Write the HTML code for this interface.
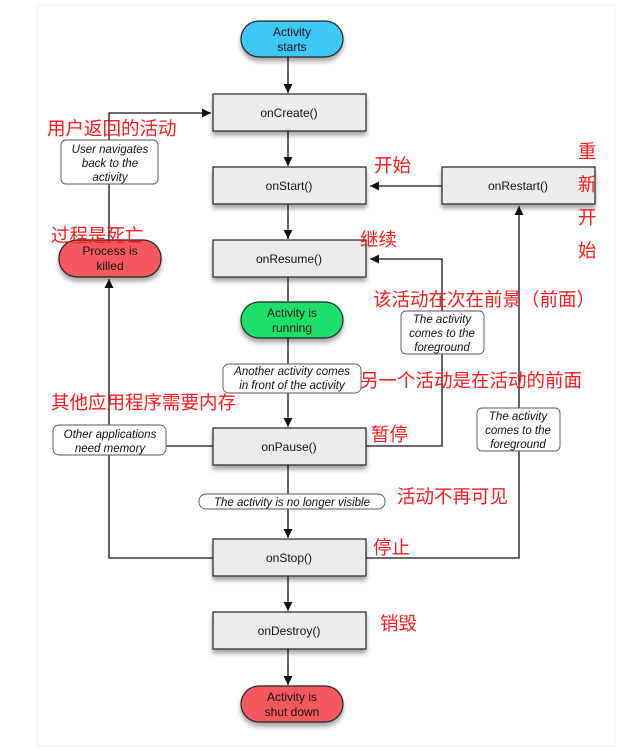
<!DOCTYPE html>
<html><head><meta charset="utf-8"><style>
body{margin:0;background:#fff;}
svg{display:block;font-family:"Liberation Sans",sans-serif;}
.cn{font-family:"Liberation Sans","Noto Sans CJK SC",sans-serif;fill:#ff1a1a;font-size:18.5px;}
</style></head><body>
<svg width="617" height="752" viewBox="0 0 617 752" xmlns="http://www.w3.org/2000/svg">
<defs>
<marker id="a" viewBox="0 0 10 10" refX="10" refY="5" markerWidth="7" markerHeight="7" orient="auto"><path d="M0,0L10,5L0,10z" fill="#111"/></marker>
<filter id="s" x="-10%" y="-20%" width="130%" height="160%"><feDropShadow dx="0" dy="4" stdDeviation="2.5" flood-color="#000" flood-opacity="0.35"/></filter>
</defs>
<rect x="37" y="5" width="578" height="741" fill="#fff" stroke="#f0f0f0"/>
<g stroke="#111" stroke-width="1.3" fill="none">
<line x1="288" y1="57" x2="288" y2="93" marker-end="url(#a)"/>
<line x1="288" y1="131" x2="288" y2="166" marker-end="url(#a)"/>
<line x1="288" y1="204" x2="288" y2="239" marker-end="url(#a)"/>
<line x1="288" y1="277" x2="288" y2="301"/>
<line x1="288" y1="338" x2="288" y2="427" marker-end="url(#a)"/>
<line x1="288" y1="465" x2="288" y2="538" marker-end="url(#a)"/>
<line x1="288" y1="576" x2="288" y2="611" marker-end="url(#a)"/>
<line x1="288" y1="649" x2="288" y2="685" marker-end="url(#a)"/>
<line x1="442" y1="186" x2="370" y2="186" marker-end="url(#a)"/>
<polyline points="366,446 442,446 442,259 370,259" marker-end="url(#a)"/>
<polyline points="366,558 519,558 519,206" marker-end="url(#a)"/>
<polyline points="109,240 109,113 211,113" marker-end="url(#a)"/>
<polyline points="213,558 109,558 109,279" marker-end="url(#a)"/>
<line x1="109" y1="446" x2="213" y2="446"/>
</g>
<g filter="url(#s)" stroke="#222" stroke-width="1.2">
<rect x="241" y="21" width="102" height="36" rx="18" fill="#3cc8f5"/>
<rect x="59" y="240" width="102" height="37" rx="18" fill="#f5585e"/>
<rect x="241" y="302" width="102" height="36" rx="18" fill="#1ee06a"/>
<rect x="241" y="686" width="102" height="36" rx="18" fill="#f5585e"/>
<rect x="213" y="94" width="153" height="37" fill="#ececec"/>
<rect x="213" y="167" width="153" height="37" fill="#ececec"/>
<rect x="442" y="167" width="153" height="37" fill="#ececec"/>
<rect x="213" y="240" width="153" height="37" fill="#ececec"/>
<rect x="213" y="428" width="153" height="37" fill="#ececec"/>
<rect x="213" y="539" width="153" height="37" fill="#ececec"/>
<rect x="213" y="612" width="153" height="37" fill="#ececec"/>
</g>
<g fill="#fff" stroke="#555" stroke-width="0.9">
<rect x="61" y="140" width="97" height="44" rx="5"/>
<rect x="401" y="311" width="83" height="43" rx="5"/>
<rect x="223" y="364" width="138" height="29" rx="6"/>
<rect x="53" y="425" width="113" height="30" rx="6"/>
<rect x="477" y="408" width="83" height="43" rx="5"/>
<rect x="199" y="494" width="186" height="15" rx="7"/>
</g>
<g font-size="12" fill="#111" text-anchor="middle">
<text x="292" y="36">Activity</text><text x="292" y="51">starts</text>
<text x="110" y="255">Process is</text><text x="110" y="270">killed</text>
<text x="292" y="317">Activity is</text><text x="292" y="332">running</text>
<text x="292" y="701">Activity is</text><text x="292" y="716">shut down</text>
<text x="289" y="117">onCreate()</text>
<text x="289" y="190">onStart()</text>
<text x="518" y="190">onRestart()</text>
<text x="289" y="263">onResume()</text>
<text x="289" y="451">onPause()</text>
<text x="289" y="562">onStop()</text>
<text x="289" y="635">onDestroy()</text>
</g>
<g font-size="11.5" font-style="italic" fill="#111" text-anchor="middle">
<text x="110" y="153">User navigates</text><text x="110" y="167">back to the</text><text x="110" y="181">activity</text>
<text x="442" y="323">The activity</text><text x="442" y="337">comes to the</text><text x="442" y="351">foreground</text>
<text x="518" y="420">The activity</text><text x="518" y="434">comes to the</text><text x="518" y="448">foreground</text>
<text x="292" y="375">Another activity comes</text><text x="292" y="389">in front of the activity</text>
<text x="110" y="438">Other applications</text><text x="110" y="452">need memory</text>
<text x="292" y="506">The activity is no longer visible</text>
</g>
<g class="cn">
<text x="47" y="135">用户返回的活动</text>
<text x="374" y="172">开始</text>
<text x="578" y="158">重</text><text x="578" y="191">新</text><text x="578" y="224">开</text><text x="578" y="257">始</text>
<text x="51" y="242">过程是死亡</text>
<text x="360" y="246">继续</text>
<text x="373" y="306">该活动在次在前景（前面）</text>
<text x="360" y="387">另一个活动是在活动的前面</text>
<text x="51" y="409">其他应用程序需要内存</text>
<text x="371" y="441">暂停</text>
<text x="397" y="503">活动不再可见</text>
<text x="373" y="554">停止</text>
<text x="380" y="630">销毁</text>
</g>
</svg>
</body></html>
